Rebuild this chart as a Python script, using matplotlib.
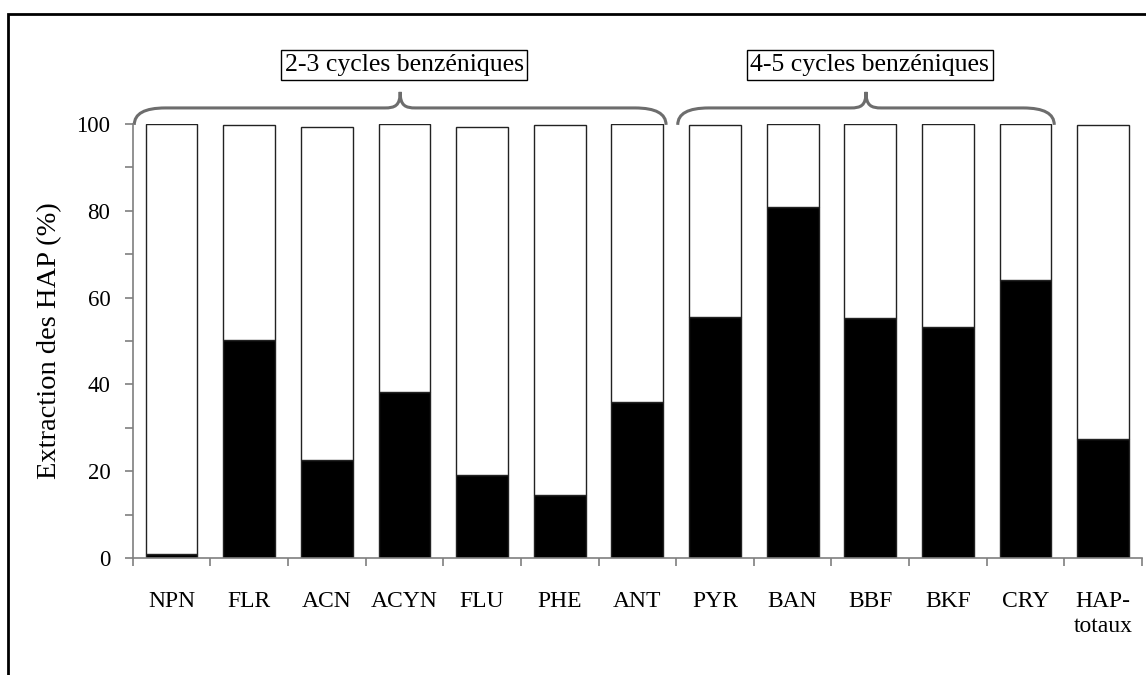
import matplotlib
matplotlib.use("Agg")
import matplotlib.pyplot as plt
import numpy as np
from matplotlib.patches import Rectangle, PathPatch
from matplotlib.path import Path
from matplotlib.ticker import MultipleLocator, FixedLocator

plt.rcParams["font.family"] = ["Liberation Serif", "DejaVu Serif"]

# data
categories = ["NPN", "FLR", "ACN", "ACYN", "FLU", "PHE", "ANT",
              "PYR", "BAN", "BBF", "BKF", "CRY", "HAP-\ntotaux"]
extracted = [1.0, 50.2, 22.6, 38.2, 19.1, 14.5, 36.0,
             55.5, 80.9, 55.3, 53.3, 64.0, 27.4]
totals = [100.0, 99.7, 99.3, 100.0, 99.3, 99.7, 100.0,
          99.7, 100.0, 100.0, 100.0, 100.0, 99.7]
groups = [("2-3 cycles benzéniques", 0, 6), ("4-5 cycles benzéniques", 7, 11)]

remaining = [t - e for t, e in zip(totals, extracted)]
axis_grey = "#7f7f7f"
brace_grey = "#6d6d6d"

fig = plt.figure(figsize=(11.46, 6.75), dpi=100)
W, H = 1146, 675
ax = fig.add_axes([132.7 / W, (H - 558) / H, (1142 - 132.7) / W, (558 - 124) / H])

x = np.arange(len(categories)) + 0.5
ax.bar(x, extracted, width=0.667, color="black", edgecolor="#222222", linewidth=1)
ax.bar(x, remaining, bottom=extracted, width=0.667, color="white", edgecolor="#222222", linewidth=1)

ax.set_xlim(0, len(categories))
ax.set_ylim(0, 100)
for side in ["top", "right"]:
    ax.spines[side].set_visible(False)
for side in ["left", "bottom"]:
    ax.spines[side].set_color(axis_grey)
    ax.spines[side].set_linewidth(1.2)

ax.yaxis.set_major_locator(MultipleLocator(20))
ax.yaxis.set_minor_locator(MultipleLocator(10))
ax.tick_params(axis="y", which="both", direction="out", length=6, width=1.2,
               color=axis_grey, labelsize=16.5, pad=10)

ax.xaxis.set_major_locator(FixedLocator(np.arange(len(categories) + 1)))
ax.xaxis.set_minor_locator(FixedLocator(x))
ax.set_xticklabels([], minor=False)
ax.set_xticklabels(categories, minor=True, va="top")
ax.tick_params(axis="x", which="major", direction="out", length=6, width=1.2, color=axis_grey)
ax.tick_params(axis="x", which="minor", length=0, labelsize=17, pad=24)

ax.set_ylabel("Extraction des HAP (%)", fontsize=20.5, labelpad=10)


def brace(x0, x1, y_end, y_flat, y_peak, r=0.4, r2=0.2):
    xm = (x0 + x1) / 2
    verts = [
        (x0, y_end), (x0, y_flat), (x0 + r, y_flat), (x0 + r, y_flat),
        (xm - r2, y_flat),
        (xm - r2 / 3, y_flat), (xm, y_flat + 0.5), (xm, y_peak),
        (xm, y_flat + 0.5), (xm + r2 / 3, y_flat), (xm + r2, y_flat),
        (x1 - r, y_flat),
        (x1, y_flat), (x1, y_end),
    ]
    codes = [Path.MOVETO, Path.CURVE3, Path.CURVE3, Path.LINETO,
             Path.LINETO,
             Path.CURVE4, Path.CURVE4, Path.CURVE4,
             Path.CURVE4, Path.CURVE4, Path.CURVE4,
             Path.LINETO,
             Path.CURVE3, Path.CURVE3]
    return Path(verts, codes)


for label, start, end in groups:
    left = start + 0.02
    right = end + 0.87
    patch = PathPatch(brace(left, right, 99.8, 103.7, 107.4), facecolor="none",
                      edgecolor=brace_grey, linewidth=2.2, clip_on=False)
    ax.add_patch(patch)
    ax.text((left + right) / 2 + 0.05, 113.6, label, ha="center", va="center", fontsize=18.5,
            clip_on=False,
            bbox=dict(boxstyle="square,pad=0.15", facecolor="white", edgecolor="black", linewidth=1))

# outer frame of the figure
fig.patches.append(Rectangle((8 / W, -0.1), 1.2, (H - 14) / H + 0.1, transform=fig.transFigure,
                             facecolor="none", edgecolor="black", linewidth=2))

fig.savefig("out.png", dpi=100)
